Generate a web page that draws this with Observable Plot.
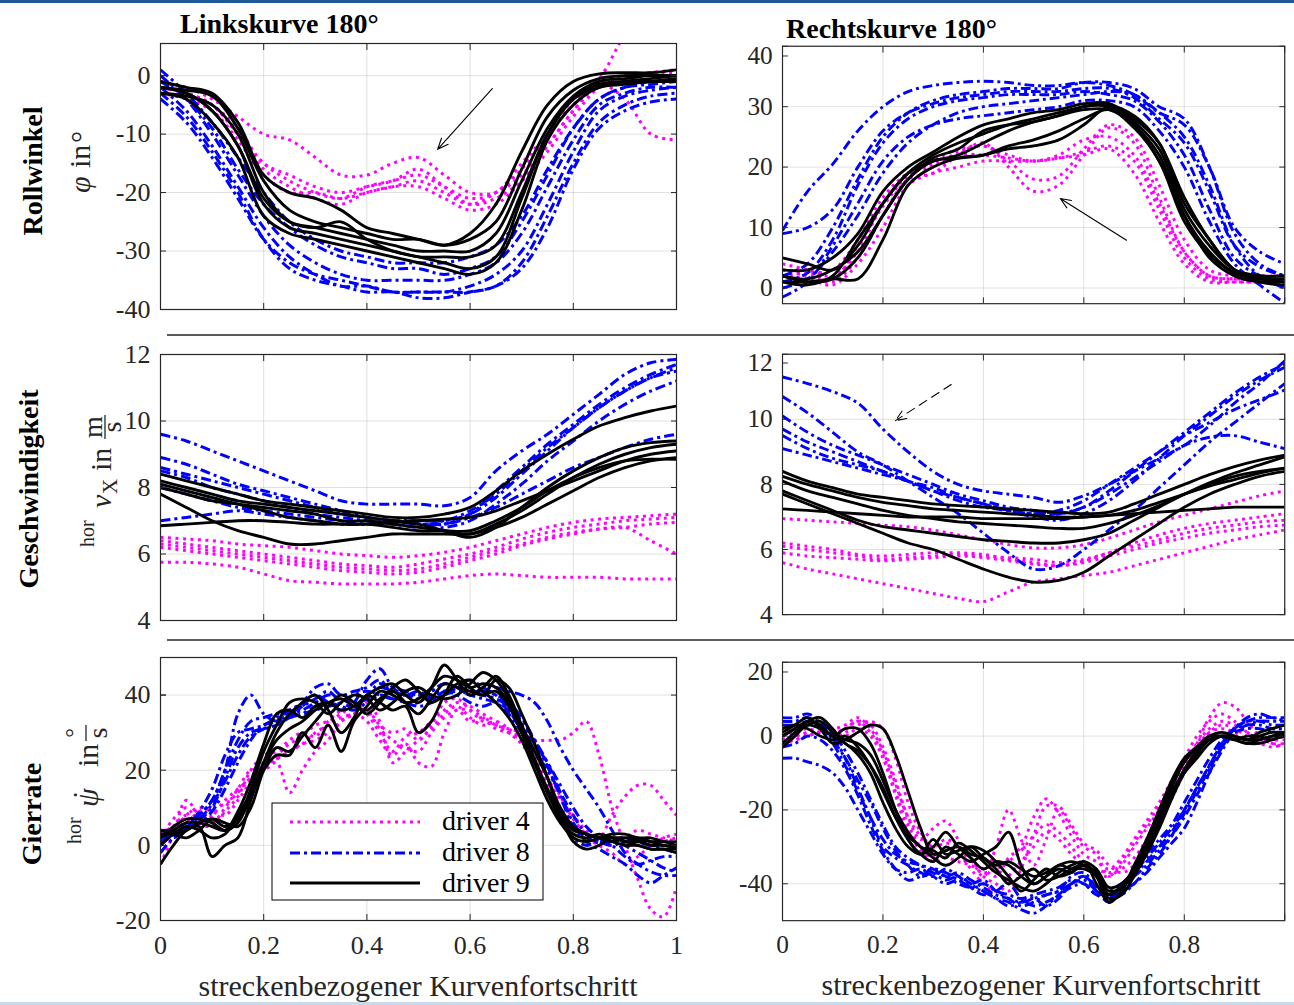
<!DOCTYPE html>
<html><head><meta charset="utf-8">
<script src="https://cdn.jsdelivr.net/npm/d3@7"></script>
<script src="https://cdn.jsdelivr.net/npm/@observablehq/plot@0.6"></script>
<style>
html,body{margin:0;padding:0;background:#fff;}
#page{position:relative;width:1294px;height:1005px;overflow:hidden;background:#fff;font-family:"Liberation Serif","Times New Roman",serif;}
.panel{position:absolute;}
.panel svg, .panel svg text, .panel svg g{font-family:"Liberation Serif","Times New Roman",serif !important;}
</style></head><body><div id="page"></div>
<script>
// ---------- data ----------
const xs21 = [0,0.05,0.1,0.15,0.2,0.25,0.3,0.35,0.4,0.45,0.5,0.55,0.6,0.65,0.7,0.75,0.8,0.85,0.9,0.95,1];
const xs41 = [0,0.025,0.05,0.075,0.1,0.125,0.15,0.175,0.2,0.225,0.25,0.275,0.3,0.325,0.35,0.375,0.4,0.425,0.45,0.475,0.5,0.525,0.55,0.575,0.6,0.625,0.65,0.675,0.7,0.725,0.75,0.775,0.8,0.825,0.85,0.875,0.9,0.925,0.95,0.975,1];
const xTickValues = [0,0.2,0.4,0.6,0.8,1];
const legendLabels = ["driver 4","driver 8","driver 9"];

// Rollwinkel, Linkskurve
const rollL_d4 = [
 [-1,-2,-4,-7,-10,-11,-14,-17,-17,-15,-14,-17,-20,-20,-17,-12,-6,-1.5,0,0.5,1],
 [-2,-3,-5,-9,-15,-17,-19,-20,-19,-18,-16,-19,-22,-21,-18,-13,-7,-2,0,0.5,1],
 [-2,-3,-5,-10,-16,-19,-21,-22,-20,-19,-18,-20,-22,-20,-16,-10,-4,-0.5,7,12,14],
 [-3,-4,-6,-11,-17,-20,-20,-21,-20,-19,-19,-21,-23,-22,-18,-12,-6,-1.5,-4,-10,-11],
 [-2,-3,-5,-10,-15,-18,-20,-21,-19,-18,-17,-19,-21,-20,-15,-10,-5,-1,0,0,0.5]];
const rollL_d8 = [
 [1,-3,-8,-14,-20,-25,-28,-30,-31,-32,-32,-32,-31,-29,-24,-16,-9,-4,-2,-1.5,-1],
 [0,-4,-10,-17,-24,-29,-32,-34,-35,-35,-35,-35,-34,-32,-27,-19,-11,-5,-3,-2,-2],
 [-2,-6,-12,-19,-26,-31,-34,-36,-36,-37,-37,-37,-36,-34,-30,-22,-13,-6,-3.5,-2.5,-2],
 [-3,-7,-13,-20,-28,-33,-35,-36,-37,-37,-38,-38,-37,-36,-32,-24,-15,-8,-5,-3.5,-3],
 [-4,-8,-14,-21,-28,-32,-34,-35,-36,-37,-37,-37,-37,-36,-33,-26,-16,-9,-6,-4.5,-4],
 [-1,-4,-9,-16,-22,-26,-29,-31,-32,-33,-33,-34,-33,-31,-25,-17,-9,-4,-2,-1,-1]];
const rollL_d9 = [
 [-1,-2,-3,-8,-17,-20,-21,-23,-26,-27,-28,-29,-27,-22,-13,-5,-1,0.3,0.5,0.5,1],
 [-2,-2.5,-3.5,-9,-18,-23,-25,-26,-27,-28,-28,-29,-28,-25,-16,-7,-2.5,-0.5,0,0,0],
 [-3,-3.5,-5,-10,-20,-25,-26,-27,-28,-29,-30,-30,-30,-27,-18,-9,-3.5,-1,-0.5,0,0],
 [-2,-3,-6,-12,-22,-26,-27,-28,-29,-30,-31,-31,-31,-29,-20,-10,-4,-2,-1,-0.5,0],
 [-3,-4,-8,-14,-24,-27,-28,-29,-30,-31,-32,-33,-34,-32,-23,-11,-5,-2,-1.5,-1,-0.5],
 [-2,-3,-6,-12,-21,-25,-26,-25,-28,-30,-31,-32,-33,-31,-21,-10,-4,-1.5,-1,-1,-1]];

// Rollwinkel, Rechtskurve
const rollR_d4 = [
 [3,2,1,5,12,18,19,22,24,20,16,17,22,26.5,24,15,6,2,1.5,1.5,1.5],
 [4,3,2,6,14,19,20,22.5,23.5,21,18,18.5,23,27,25,17,8,3,2,2,2],
 [2,2.5,3,8,15,19,20.5,22,22,21.5,21,21.5,22.5,23.5,21,13,5,1.5,1,1,1],
 [3,2.5,1.5,7,13.5,18.5,21,23,23.5,22,21,22,24.5,25,22,14,6,2,1.5,1.5,1.5],
 [2,1.5,0.5,4,10,17,19,20,21,21,21,21.5,22,23,19,11,4,1,1,1,1]];
const rollR_d8 = [
 [9.5,16,20.5,26,30,32.5,33.5,34,34.2,34,33.5,33.5,34,33.5,32,29,27,20,10,6,4],
 [9,10,13,20,26,29,30.5,31.5,32,32.5,32.5,32.5,33,33,31.5,28,24,16,7,3.5,2],
 [1,2.5,8,17,24,28,30,31,31.5,32,32,32,32.5,32,31,27.5,22,13,5,2,1],
 [2,4,10,18,25,29,31,32,32.5,33,33,33,34,34,33,30,28,20,9,4,2],
 [-1.5,1,7,14,21,25,27,28,28.5,29,29.5,30,31,31,30,26,20,11,4,0.5,-2.5],
 [0,1.5,6,12,19,24,27,29,30,30.5,31,31.5,32,32.5,32,29,25,17,7,2,0]];
const rollR_d9 = [
 [5,4,3,7,14,19,22,24,25.5,27,28,29,30,30.5,28,24,14,8,3,2,2],
 [3,3,5,9,16,20,22.5,25,27,28,29,29.5,30.5,30.5,27.5,23,13,7,3,2,2],
 [1,0.5,2,8,14,19,21,22,24,26,27.5,28.5,30,30,27,22,12,6,2.5,1.5,1.5],
 [2,1,1.5,5,12,18,21,21.5,22,23.5,24.5,26,28,29.5,26.5,21,11,5.5,2.5,1.5,1],
 [1,1,1.5,1.5,8,17,20,21.5,22,23,23.5,24.5,27,30,28.5,24,15,8,3,1,0.5],
 [2,1.5,3,6,12,18,21.5,23,26,27,27.5,28.5,29.5,29.5,27,21,12,5,2,1,1]];

// Geschwindigkeit, Linkskurve
const speedL_d4 = [
 [6.5,6.45,6.4,6.3,6.25,6.2,6.1,6.0,5.95,5.9,5.95,6.05,6.2,6.4,6.6,6.8,6.95,7.05,7.1,7.15,7.2],
 [6.4,6.3,6.2,6.1,6.0,5.9,5.8,5.7,5.65,5.6,5.7,5.85,6.0,6.2,6.45,6.65,6.8,6.9,7.0,7.05,7.1],
 [6.3,6.2,6.1,6.0,5.9,5.8,5.7,5.6,5.55,5.5,5.55,5.7,5.9,6.1,6.3,6.5,6.65,6.75,6.8,6.9,6.95],
 [6.2,6.1,6.0,5.9,5.8,5.7,5.6,5.5,5.45,5.4,5.45,5.6,5.8,6.0,6.25,6.45,6.6,6.75,6.8,6.4,6.0],
 [5.75,5.75,5.7,5.6,5.4,5.2,5.15,5.1,5.1,5.1,5.15,5.25,5.35,5.4,5.35,5.3,5.3,5.3,5.25,5.25,5.25]];
const speedL_d8 = [
 [9.6,9.4,9.1,8.8,8.5,8.2,7.9,7.6,7.5,7.5,7.5,7.45,7.7,8.5,9.1,9.6,10.2,10.8,11.4,11.75,11.85],
 [8.9,8.7,8.4,8.1,7.9,7.7,7.5,7.3,7.1,7.0,6.9,6.9,7.2,7.9,8.6,9.3,9.9,10.5,11.0,11.4,11.7],
 [8.6,8.4,8.2,8.0,7.8,7.6,7.4,7.2,7.1,7.0,7.0,7.0,7.3,7.8,8.5,9.2,9.8,10.4,10.9,11.3,11.5],
 [8.5,8.3,8.0,7.8,7.6,7.4,7.2,7.1,7.0,6.9,6.8,6.8,7.0,7.5,8.1,8.8,9.4,10.0,10.5,10.9,11.2],
 [8.0,7.8,7.6,7.4,7.3,7.2,7.1,7.0,6.9,6.9,6.9,6.9,7.1,7.4,7.8,8.2,8.6,8.9,9.2,9.45,9.6],
 [7.0,7.1,7.2,7.3,7.2,7.1,7.0,6.9,6.9,7.0,7.0,7.0,7.2,7.7,8.4,9.1,9.8,10.4,10.9,11.3,11.6]];
const speedL_d9 = [
 [8.4,8.2,8.0,7.8,7.6,7.5,7.4,7.3,7.2,7.1,7.1,7.2,7.4,7.9,8.5,9.0,9.45,9.85,10.1,10.3,10.45],
 [8.2,8.0,7.8,7.6,7.5,7.4,7.3,7.2,7.1,7.0,6.9,6.7,6.5,6.8,7.4,8.0,8.5,8.9,9.2,9.35,9.4],
 [8.0,7.8,7.6,7.5,7.4,7.3,7.2,7.0,7.0,6.9,6.8,6.7,6.6,6.9,7.3,7.8,8.3,8.7,9.0,9.2,9.3],
 [7.8,7.4,7.0,6.7,6.5,6.3,6.3,6.4,6.5,6.6,6.6,6.6,6.6,6.8,7.1,7.5,7.9,8.3,8.6,8.8,8.9],
 [6.85,6.9,6.95,7.0,7.0,6.95,6.9,6.9,6.9,6.95,7.0,7.05,7.1,7.3,7.6,7.9,8.2,8.5,8.8,9.0,9.1],
 [8.1,7.9,7.7,7.5,7.3,7.1,7.0,6.9,6.9,6.8,6.7,6.7,6.7,7.0,7.4,7.9,8.3,8.6,8.8,8.85,8.85]];

// Geschwindigkeit, Rechtskurve
const speedR_d4 = [
 [6.95,6.9,6.85,6.8,6.75,6.7,6.6,6.45,6.3,6.15,6.05,6.05,6.15,6.35,6.6,6.85,7.05,7.25,7.45,7.65,7.8],
 [6.2,6.1,6.0,5.85,5.8,5.85,5.9,5.9,5.85,5.7,5.6,5.5,5.65,5.9,6.2,6.45,6.65,6.8,6.9,7.0,7.1],
 [6.1,6.0,5.9,5.8,5.7,5.75,5.8,5.85,5.8,5.75,5.7,5.6,5.7,5.9,6.1,6.3,6.5,6.65,6.75,6.85,6.9],
 [5.9,5.8,5.75,5.7,5.65,5.7,5.75,5.8,5.75,5.65,5.55,5.5,5.6,5.8,6.0,6.2,6.35,6.5,6.6,6.7,6.75],
 [5.6,5.4,5.25,5.1,4.95,4.8,4.65,4.5,4.4,4.7,5.0,5.1,5.2,5.3,5.5,5.7,5.9,6.1,6.3,6.45,6.6]];
const speedR_d8 = [
 [11.3,11.1,10.85,10.5,9.7,9.0,8.4,8.0,7.8,7.7,7.6,7.45,7.65,8.0,8.4,8.8,9.2,9.8,10.5,11.1,11.8],
 [10.7,10.2,9.6,9.0,8.6,8.1,7.6,7.1,6.5,5.9,5.4,5.5,6.0,6.6,7.2,7.9,8.6,9.3,9.9,10.5,11.1],
 [10.1,9.6,9.2,8.9,8.6,8.3,8.0,7.7,7.5,7.3,7.2,7.1,7.3,7.8,8.4,9.0,9.6,10.2,10.8,11.3,11.7],
 [9.7,9.3,9.0,8.7,8.4,8.1,7.8,7.5,7.3,7.2,7.1,7.2,7.5,8.0,8.5,9.0,9.5,9.9,10.3,10.6,10.9],
 [9.5,9.1,8.8,8.6,8.4,8.1,7.9,7.6,7.4,7.2,7.1,7.1,7.3,7.7,8.2,8.7,9.2,9.45,9.5,9.3,9.1],
 [9.1,8.9,8.7,8.5,8.3,8.1,7.8,7.6,7.4,7.2,7.0,6.9,7.1,7.5,8.1,8.8,9.5,10.1,10.7,11.2,11.6]];
const speedR_d9 = [
 [8.4,8.1,7.9,7.7,7.6,7.5,7.4,7.35,7.3,7.25,7.2,7.15,7.1,7.15,7.4,7.7,8.0,8.3,8.55,8.75,8.9],
 [8.25,8.0,7.8,7.6,7.45,7.35,7.25,7.2,7.15,7.1,7.05,7.0,7.0,7.05,7.2,7.45,7.7,7.95,8.15,8.35,8.5],
 [8.1,7.8,7.6,7.4,7.2,7.05,6.95,6.85,6.8,6.75,6.7,6.65,6.65,6.8,7.05,7.35,7.7,8.0,8.25,8.4,8.5],
 [7.8,7.5,7.2,6.9,6.7,6.6,6.5,6.4,6.3,6.25,6.2,6.2,6.3,6.5,6.9,7.3,7.7,8.05,8.35,8.6,8.85],
 [7.7,7.4,7.1,6.8,6.5,6.2,6.0,5.7,5.4,5.15,5.0,5.05,5.3,5.8,6.3,6.8,7.3,7.7,8.0,8.25,8.4],
 [7.25,7.2,7.15,7.1,7.05,7.0,7.0,7.0,6.95,6.95,6.95,6.95,7.0,7.05,7.1,7.15,7.2,7.25,7.3,7.3,7.3]];

// Gierrate, Linkskurve
const yawL_d4 = [
 [-5,3,12,8,6,10,15,20,20,22,14,20,25,28,33,35,33,28,24,27,22,21,30,36,33,34,32,31,30,28,28,28,30,33,24,10,0,-9,-17,-19,-11],
 [2,7,10,6,5,9,13,20,24,25,28,30,29,33,36,38,35,30,25,29,30,33,36,38,37,35,33,30,27,22,17,10,5,3,2,8,13,16,16,12,8],
 [0,5,8,6,8,12,15,18,22,23,25,27,30,32,34,35,36,32,30,31,28,32,38,39,36,33,32,30,28,24,18,12,8,4,2,1,0,0,0,1,2],
 [3,5,6,9,10,11,14,18,21,23,25,27,28,30,33,35,38,33,22,25,28,31,35,37,34,32,33,31,28,23,16,10,5,2,0,-2,-5,-3,0,2,3],
 [1,4,8,10,9,8,12,17,22,24,27,29,32,33,35,37,36,31,28,26,25,30,34,36,36,34,31,30,29,26,20,13,7,3,1,0,2,4,3,2,1]];
const yawL_d8 = [
 [3,2,4,8,12,20,35,40,35,33,34,37,40,38,36,38,44,47,42,40,41,39,40,42,44,42,40,36,30,22,14,8,2,0,1,2,0,-2,-4,-6,-7],
 [0,3,5,9,15,24,30,31,32,34,36,38,42,43,40,41,42,44,40,38,38,41,43,42,40,42,42,41,40,38,33,26,20,15,10,4,-2,-5,-7,-8,-8],
 [2,4,6,7,10,18,26,30,31,32,34,35,37,38,37,36,38,40,39,38,37,38,40,41,40,39,38,35,30,25,20,14,8,3,1,0,1,1,0,-1,-2],
 [-2,2,4,6,9,15,22,28,32,33,34,35,36,37,38,40,41,40,39,40,39,40,41,40,38,37,38,36,32,27,22,16,10,5,2,0,-3,-5,-4,-3,-3],
 [1,3,5,8,12,20,28,33,34,35,35,36,38,40,39,38,39,42,41,40,40,39,41,42,41,40,39,37,33,28,22,14,6,2,1,1,2,1,0,0,0],
 [4,4,5,7,11,17,24,29,31,33,35,37,39,41,38,37,40,43,42,41,40,41,43,42,41,41,40,38,34,28,21,13,5,1,-1,-3,-5,-8,-10,-8,-6]];
const yawL_d9 = [
 [2,4,6,6,5,4,9,17,27,35,36,34,37,38,36,37,40,42,43,40,38,42,48,44,40,42,45,40,32,25,18,10,5,3,2,2,2,1.5,1,1,0],
 [0,3,5,4,2,3,8,14,22,28,31,33,36,38,39,37,36,39,41,38,35,39,43,42,41,40,41,37,30,22,14,7,3,2,3,2,1,1,0,0,-1],
 [4,3,2,4,7,6,5,10,20,26,25,29,33,37,40,38,35,38,42,44,41,38,40,43,44,41,38,34,28,20,12,6,2,1,2,3,3,2,2,1,1],
 [-5,0,4,5,-3,0,2,12,22,30,35,38,40,36,30,34,40,38,36,37,30,33,40,45,42,40,44,42,35,27,18,8,1,-1,0,2,1,0,-1,-1,-2],
 [2,5,7,7,6,4,6,13,20,24,24,30,26,32,25,33,37,41,40,38,39,42,45,44,42,43,42,38,30,22,14,8,4,3,2,1,2,2,1,0,0],
 [3,3,4,6,7,5,7,15,25,32,38,39,38,35,38,40,39,36,38,41,42,40,39,40,43,46,44,39,31,23,15,9,5,3,2,1,0,0,-1,-1,-1]];

// Gierrate, Rechtskurve
const yawR_d4 = [
 [-1,0,1,2,1,2,4,3,-3,-12,-22,-28,-25,-23,-28,-33,-38,-30,-20,-28,-35,-28,-20,-25,-30,-32,-38,-35,-30,-25,-20,-14,-8,-2,5,9,8,4,0,-2,-2],
 [-2,-1,0,1,0,1,3,4,2,-6,-18,-26,-30,-28,-30,-34,-36,-38,-33,-30,-22,-17,-21,-27,-32,-34,-36,-33,-28,-23,-18,-12,-6,0,4,6,4,1,-1,-2,-3],
 [0,1,2,1,0,2,4,1,-5,-15,-24,-30,-33,-31,-32,-36,-40,-42,-38,-34,-30,-26,-28,-32,-35,-37,-38,-34,-29,-24,-19,-13,-7,-2,2,4,3,1,0,-1,-1],
 [-1,0,1,3,2,3,5,2,-4,-13,-22,-27,-30,-29,-30,-33,-38,-40,-42,-36,-27,-19,-19,-24,-29,-31,-35,-37,-35,-30,-24,-17,-10,-4,1,3,2,0,-1,-1,0],
 [-2,-1,0,1,1,0,2,0,-6,-16,-26,-31,-34,-33,-34,-35,-37,-36,-34,-31,-27,-24,-26,-30,-34,-36,-37,-36,-33,-28,-22,-15,-8,-3,1,2,1,-1,-2,-3,-2]];
const yawR_d8 = [
 [5,5,6,4,0,-6,-14,-22,-30,-33,-35,-37,-38,-36,-38,-40,-39,-42,-44,-46,-45,-43,-42,-40,-38,-42,-44,-42,-40,-37,-33,-29,-25,-18,-10,-3,2,5,6,5,5],
 [-6,-6,-7,-8,-10,-14,-20,-26,-32,-36,-37,-36,-38,-40,-39,-41,-42,-44,-45,-47,-48,-46,-43,-40,-39,-42,-45,-42,-38,-34,-30,-26,-20,-14,-8,-2,2,4,4,3,3],
 [4,4,5,3,-1,-6,-12,-18,-25,-31,-35,-38,-37,-38,-40,-41,-40,-42,-43,-44,-43,-42,-41,-39,-40,-43,-44,-41,-37,-33,-29,-25,-20,-14,-8,-2,2,4,5,5,4],
 [0,2,3,2,-2,-8,-15,-22,-28,-32,-34,-35,-36,-38,-37,-39,-41,-43,-44,-45,-44,-43,-42,-38,-37,-41,-43,-40,-37,-32,-28,-24,-18,-12,-6,-1,2,3,3,2,2],
 [-3,-2,0,-1,-4,-9,-16,-24,-31,-36,-39,-38,-36,-37,-39,-41,-43,-42,-40,-44,-46,-45,-43,-41,-40,-43,-42,-40,-38,-35,-31,-27,-22,-16,-10,-4,1,3,4,4,4],
 [3,3,4,4,1,-4,-10,-17,-24,-30,-33,-35,-37,-39,-38,-40,-42,-44,-46,-45,-44,-46,-44,-40,-38,-41,-44,-43,-40,-36,-32,-27,-21,-15,-9,-3,1,2,2,1,1]];
const yawR_d9 = [
 [0,2,4,3,0,2,2,-2,-10,-20,-28,-32,-34,-30,-32,-34,-32,-30,-26,-35,-40,-38,-36,-37,-34,-40,-45,-42,-36,-30,-22,-15,-10,-6,-2,0,-1,-2,-1,0,1],
 [-2,1,4,5,2,-2,-4,-8,-14,-22,-28,-32,-30,-26,-30,-33,-36,-34,-35,-38,-40,-38,-35,-36,-36,-38,-44,-43,-38,-32,-25,-17,-10,-5,-1,0,0,-1,-1,0,0],
 [1,3,5,2,-2,-1,1,3,2,-5,-15,-25,-32,-31,-30,-32,-33,-35,-34,-36,-38,-37,-35,-34,-35,-37,-43,-41,-37,-31,-23,-14,-7,-3,0,1,0,-1,0,1,1],
 [-3,0,3,2,0,-2,-5,-10,-18,-25,-30,-32,-28,-32,-31,-30,-33,-36,-40,-38,-36,-39,-38,-36,-35,-38,-45,-42,-35,-28,-20,-12,-6,-3,-1,0,-1,-2,-2,-1,0],
 [2,3,2,0,-1,0,-3,-8,-15,-22,-27,-30,-33,-35,-33,-30,-31,-34,-38,-42,-39,-36,-38,-37,-35,-37,-42,-41,-37,-31,-24,-16,-9,-4,-1,0,0,-1,1,2,3],
 [0,2,3,4,1,-1,-2,-5,-12,-20,-26,-30,-31,-33,-29,-31,-34,-37,-39,-41,-42,-40,-37,-35,-34,-36,-41,-40,-36,-29,-21,-13,-7,-3,0,0,-1,0,0,-1,1]];

// annotation arrows (data coordinates of each panel)
const arrowRollL = [{x1:0.643, y1:-2.2, x2:0.537, y2:-12.6}];
const arrowRollR = [{x1:0.685, y1:7.9, x2:0.553, y2:14.8}];
const arrowSpeedR = [{x1:0.336, y1:11.07, x2:0.225, y2:9.96}];

// ---------- styles ----------
const style = {
  d4: {stroke:"#ff00ff", strokeWidth:3, strokeDasharray:"3,4.5"},
  d8: {stroke:"#0000ff", strokeWidth:3, strokeDasharray:"10,4,3,4"},
  d9: {stroke:"#000000", strokeWidth:2.9}
};
const axisColor = "#262626";
const FONT = "Liberation Serif";

function rows(runs, xs, driver) {
  return runs.flatMap((r, i) => r.map((y, j) => ({x: xs[j], y, run: driver + "-" + i})));
}

function makePanel(cfg) {
  const {left, top, w, h, yDomain, yTicks, xLabels, xs, d4, d8, d9, arrows = [], dashedArrow = false, topLabelDy = 0} = cfg;
  const bottom = !!xLabels;
  const mL = 80, mR = 10, mT = 10, mB = bottom ? 50 : 10;
  const lineOpts = (s) => ({x:"x", y:"y", z:"run", ...s, curve:"catmull-rom", clip:true, strokeLinecap:"butt"});
  const fmt = (d) => (xLabels && xLabels.includes(d)) ? String(d) : "";
  const topTick = yTicks[yTicks.length - 1];
  const yOpts = {anchor:"left", tickPadding:16, label:null, fontSize:26, fontFamily:FONT, color:axisColor};
  const marks = [
    Plot.gridX(xTickValues, {stroke:"#000", strokeOpacity:0.12, strokeWidth:1}),
    Plot.gridY(yTicks, {stroke:"#000", strokeOpacity:0.12, strokeWidth:1}),
    Plot.line(rows(d4, xs, "d4"), lineOpts(style.d4)),
    Plot.line(rows(d8, xs, "d8"), lineOpts(style.d8)),
    Plot.line(rows(d9, xs, "d9"), lineOpts(style.d9)),
    Plot.arrow(arrows, {x1:"x1", y1:"y1", x2:"x2", y2:"y2", stroke:"#000", strokeWidth:1.1, headLength:16, headAngle:45,
                        strokeDasharray: dashedArrow ? "9,6" : null}),
    Plot.frame({stroke:axisColor, strokeWidth:1.2}),
    Plot.axisY(yTicks, {...yOpts, tickSize:-6, tickFormat:d => d === topTick && topLabelDy ? "" : String(d)}),
    Plot.axisY([topTick], {...yOpts, tickSize:-6, dy:topLabelDy, tickFormat:d => topLabelDy ? String(d) : ""}),
    Plot.axisY(yTicks, {anchor:"right", tickSize:-6, label:null, color:axisColor, tickFormat:()=>""}),
    Plot.axisX(xTickValues, {anchor:"top", tickSize:-6, label:null, color:axisColor, tickFormat:()=>""}),
    Plot.axisX(xTickValues, {anchor:"bottom", tickSize:-6, tickPadding:21, label:null, fontSize:26, fontFamily:FONT, color:axisColor, tickFormat:fmt})
  ];
  const svg = Plot.plot({
    width: mL + w + mR, height: mT + h + mB,
    marginLeft: mL, marginRight: mR, marginTop: mT, marginBottom: mB,
    x: {domain:[0,1]}, y: {domain:yDomain},
    style: {fontFamily:FONT, background:"transparent", overflow:"visible"},
    marks
  });
  svg.querySelectorAll("text").forEach(t => { t.style.fontFamily = '"Liberation Serif", serif'; });
  const div = document.createElement("div");
  div.className = "panel";
  div.style.left = (left - mL) + "px";
  div.style.top = (top - mT) + "px";
  div.appendChild(svg);
  document.getElementById("page").appendChild(div);
}

const page = document.getElementById("page");
const topBar = document.createElement("div");
topBar.style.cssText = "position:absolute;left:0;top:0;width:1294px;height:3px;background:#1d5a97;";
page.appendChild(topBar);
const botBar = document.createElement("div");
botBar.style.cssText = "position:absolute;left:0;top:1002px;width:1294px;height:3px;background:#c7dbee;";
page.appendChild(botBar);

makePanel({left:160, top:43, w:516, h:266, yDomain:[-40,5.5], yTicks:[-40,-30,-20,-10,0], xs:xs21,
  d4:rollL_d4, d8:rollL_d8, d9:rollL_d9, arrows:arrowRollL});
makePanel({left:784, top:46, w:515, h:264, yDomain:[-2.6,40], yTicks:[0,10,20,30,40], xs:xs21,
  d4:rollR_d4, d8:rollR_d8, d9:rollR_d9, arrows:arrowRollR, topLabelDy:10});
makePanel({left:160, top:354, w:516, h:266, yDomain:[4,12], yTicks:[4,6,8,10,12], xs:xs21,
  d4:speedL_d4, d8:speedL_d8, d9:speedL_d9});
makePanel({left:784, top:354, w:515, h:267, yDomain:[4,12], yTicks:[4,6,8,10,12], xs:xs21,
  d4:speedR_d4, d8:speedR_d8, d9:speedR_d9, arrows:arrowSpeedR, dashedArrow:true, topLabelDy:9});
makePanel({left:160, top:657, w:516, h:263, yDomain:[-20,50], yTicks:[-20,0,20,40], xs:xs41,
  d4:yawL_d4, d8:yawL_d8, d9:yawL_d9, xLabels:[0,0.2,0.4,0.6,0.8,1]});
makePanel({left:784, top:662, w:515, h:265, yDomain:[-50,20], yTicks:[-40,-20,0,20], xs:xs41,
  d4:yawR_d4, d8:yawR_d8, d9:yawR_d9, xLabels:[0,0.2,0.4,0.6,0.8], topLabelDy:10});

// ---------- overlay: titles, labels, separators, legend ----------
const ns = "http://www.w3.org/2000/svg";
const ov = document.createElementNS(ns, "svg");
ov.setAttribute("width", 1294); ov.setAttribute("height", 1005);
ov.style.cssText = "position:absolute;left:0;top:0;pointer-events:none;";
ov.setAttribute("font-family", '"Liberation Serif","Times New Roman",serif');
const c = axisColor;
ov.innerHTML = `
<line x1="167" x2="1294" y1="335" y2="335" stroke="${c}" stroke-width="1.3"/>
<line x1="167" x2="1294" y1="640" y2="640" stroke="${c}" stroke-width="1.3"/>
<text x="180" y="33" font-size="28" font-weight="bold" fill="#000">Linkskurve 180°</text>
<text x="786" y="38" font-size="28" font-weight="bold" fill="#000">Rechtskurve 180°</text>
<text transform="translate(42,171) rotate(-90)" text-anchor="middle" font-size="28" font-weight="bold" fill="#000">Rollwinkel</text>
<text transform="translate(38,489) rotate(-90)" text-anchor="middle" font-size="28" font-weight="bold" fill="#000">Geschwindigkeit</text>
<text transform="translate(41,814) rotate(-90)" text-anchor="middle" font-size="28" font-weight="bold" fill="#000">Gierrate</text>
<g transform="translate(90,161) rotate(-90)" font-size="30" fill="${c}">
  <text x="-32" y="0" font-style="italic">φ</text>
  <text x="-7" y="0">in</text>
  <text x="18" y="2">°</text>
</g>
<g transform="translate(111,480) rotate(-90)" font-size="30" fill="${c}">
  <text x="-67" y="-17" font-size="20">hor</text>
  <text x="-28" y="0" font-style="italic">v</text>
  <text x="-14" y="6" font-size="21">X</text>
  <text x="9" y="0">in</text>
  <text x="53" y="-9" font-size="28" text-anchor="middle">m</text>
  <line x1="41" x2="65" y1="-6" y2="-6" stroke="${c}" stroke-width="1.3"/>
  <text x="53" y="10" font-size="28" text-anchor="middle">s</text>
</g>
<g transform="translate(98,786) rotate(-90)" font-size="30" fill="${c}">
  <text x="-58" y="-17" font-size="20">hor</text>
  <text x="-21" y="0" font-style="italic">ψ</text>
  <text x="-9" y="-4" text-anchor="middle">˙</text>
  <text x="19" y="0">in</text>
  <text x="53" y="-16" font-size="24" text-anchor="middle">°</text>
  <line x1="45" x2="61" y1="-12" y2="-12" stroke="${c}" stroke-width="1.3"/>
  <text x="53" y="9" font-size="28" text-anchor="middle">s</text>
</g>
<text x="418" y="996" text-anchor="middle" font-size="30" fill="${c}">streckenbezogener Kurvenfortschritt</text>
<text x="1041" y="995" text-anchor="middle" font-size="30" fill="${c}">streckenbezogener Kurvenfortschritt</text>
<rect x="272" y="803" width="271" height="97" fill="#fff" stroke="#000" stroke-width="1"/>
<line x1="290" x2="420" y1="822" y2="822" stroke="#ff00ff" stroke-width="3" stroke-dasharray="3,4.5"/>
<line x1="290" x2="420" y1="853" y2="853" stroke="#0000ff" stroke-width="3" stroke-dasharray="10,4,3,4"/>
<line x1="290" x2="420" y1="883" y2="883" stroke="#000" stroke-width="3"/>
<text x="442" y="830" font-size="28" fill="#000">${legendLabels[0]}</text>
<text x="442" y="861" font-size="28" fill="#000">${legendLabels[1]}</text>
<text x="442" y="892" font-size="28" fill="#000">${legendLabels[2]}</text>
`;
page.appendChild(ov);
</script></body></html>
